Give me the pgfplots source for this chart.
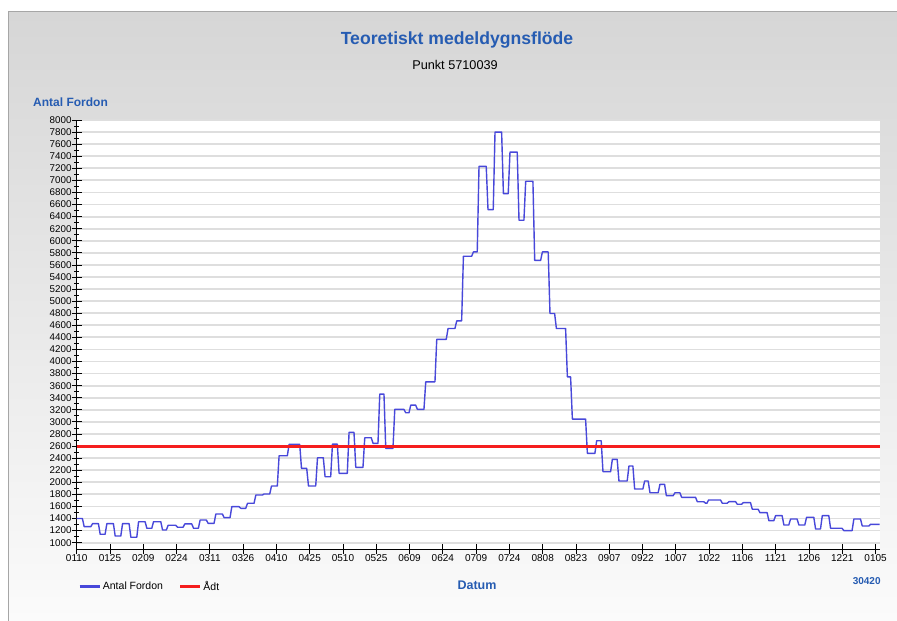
\documentclass[border=0pt]{standalone}
\usepackage{fontspec}
\setmainfont{Liberation Sans}
\usepackage{pgfplots}
\pgfplotsset{compat=1.18}
\definecolor{titleblue}{RGB}{38,92,178}
\definecolor{lineblue}{RGB}{72,72,218}
\definecolor{adtred}{RGB}{245,30,30}
\definecolor{gridgray}{RGB}{222,222,222}
\definecolor{bgtop}{RGB}{214,214,214}
\definecolor{bgmid}{RGB}{232,232,232}
\definecolor{bgbot}{RGB}{251,251,251}
\begin{document}
\begin{tikzpicture}[x=1pt,y=1pt]
\useasboundingbox (0,0) rectangle (897,621);
\fill[white] (0,0) rectangle (897,621);
\shade[top color=bgtop, middle color=bgmid, bottom color=bgbot] (8,0) rectangle (897,609);
\draw[gray!70, line width=1pt] (8,0) -- (8,609) -- (897,609);
\node[font=\fontsize{17.6}{20}\selectfont\bfseries, text=titleblue] at (457,581) {Teoretiskt medeldygnsflöde};
\node[font=\fontsize{12.7}{14}\selectfont] at (455,556) {Punkt 5710039};
\node[font=\fontsize{12}{14}\selectfont\bfseries, text=titleblue, anchor=west, inner sep=0pt] at (33,519) {Antal Fordon};
\node[font=\fontsize{12.5}{14}\selectfont\bfseries, text=titleblue] at (477,36) {Datum};
\node[font=\fontsize{10}{12}\selectfont\bfseries, text=titleblue] at (866.7,40) {30420};
\begin{axis}[
  at={(76.7pt,71.7pt)}, anchor=south west,
  width=803.3pt, height=429.3pt, scale only axis,
  axis background/.style={fill=white},
  xmin=0, xmax=362, ymin=890, ymax=8000,
  axis lines=left, axis line style={-, black, line width=0.8pt},
  xtick={0,15,...,360},
  xticklabels={0110,0125,0209,0224,0311,0326,0410,0425,0510,0525,0609,0624,0709,0724,0808,0823,0907,0922,1007,1022,1106,1121,1206,1221,0105},
  ytick={1000,1200,...,8000},
  minor y tick num=1,
  tick align=center,
  major tick length=10pt, minor tick length=5pt,
  tick style={black, line width=0.8pt},
  ymajorgrids, major grid style={gridgray, line width=1.8pt},
  /pgf/number format/.cd, 1000 sep={}, assume math mode=true, /pgfplots/.cd,
  yticklabel style={font=\fontsize{9.8}{10}\selectfont, inner sep=0pt, anchor=east},
  xticklabel style={font=\fontsize{10}{11}\selectfont, inner sep=0pt, anchor=north},
  legend style={at={(0.002,-0.0871)}, anchor=west, draw=none, fill=none, inner sep=0pt,
    font=\fontsize{10.5}{12}\selectfont, legend columns=2,
    /tikz/every even column/.append style={column sep=14pt}},
  legend image code/.code={\draw[#1, line width=2.4pt] (0pt,0pt) -- (20pt,0pt);},
]
\addplot[lineblue, line width=1.4pt, line join=round] coordinates {
(0,1400) (2.57,1400) (3.37,1265) (6.36,1265) (7.16,1315) (9.78,1315)
(10.58,1140) (12.8,1140) (13.6,1315) (16.54,1315) (17.34,1110) (19.87,1110)
(20.67,1315) (23.61,1315) (24.41,1090) (27.08,1090) (27.88,1347) (30.82,1347)
(31.62,1238) (33.83,1238) (34.63,1347) (37.89,1347) (38.69,1210) (40.41,1210)
(41.21,1288) (44.65,1288) (45.45,1255) (47.93,1255) (48.73,1310) (51.85,1310)
(52.65,1238) (54.83,1238) (55.63,1375) (58.43,1375) (59.23,1320) (61.9,1320)
(62.7,1475) (65.64,1475) (66.44,1414) (69.1,1414) (69.9,1596) (73.16,1596)
(73.96,1569) (76.18,1569) (76.98,1652) (79.92,1652) (80.72,1789) (83.65,1789)
(84.45,1806) (86.99,1806) (87.79,1938) (90.41,1938) (91.21,2440) (94.92,2440)
(95.72,2628) (100.5,2628) (101.3,2231) (103.65,2231) (104.45,1938) (107.71,1938)
(108.51,2406) (111.13,2406) (111.93,2092) (114.46,2092) (115.26,2633) (117.44,2633)
(118.24,2148) (121.94,2148) (122.74,2827) (124.96,2827) (125.76,2248) (129.01,2248)
(129.81,2737) (132.75,2737) (133.55,2645) (135.77,2645) (136.57,3460) (138.47,3460)
(139.27,2562) (142.53,2562) (143.33,3207) (147.48,3207) (148.28,3151) (149.74,3151)
(150.54,3278) (152.75,3278) (153.55,3207) (156.49,3207) (157.29,3664) (161.45,3664)
(162.25,4366) (166.54,4366) (167.34,4547) (170.46,4547) (171.26,4673) (173.47,4673)
(174.27,5743) (177.98,5743) (178.78,5815) (180.5,5815) (181.3,7233) (184.55,7233)
(185.35,6516) (187.71,6516) (188.51,7800) (191.49,7800) (192.29,6781) (194.46,6781)
(195.26,7469) (198.52,7469) (199.32,6339) (201.54,6339) (202.34,6985) (205.59,6985)
(206.39,5674) (209.06,5674) (209.86,5815) (212.48,5815) (213.28,4795) (215.37,4795)
(216.17,4547) (220.32,4547) (221.12,3746) (222.57,3746) (223.37,3047) (229.33,3047)
(230.13,2479) (233.52,2479) (234.32,2688) (236.36,2688) (237.16,2175) (240.59,2175)
(241.39,2380) (243.56,2380) (244.36,2021) (248.07,2021) (248.87,2269) (250.64,2269)
(251.44,1888) (255.14,1888) (255.94,2021) (257.53,2021) (258.33,1827) (262.03,1827)
(262.83,1966) (264.92,1966) (265.72,1778) (268.79,1778) (269.59,1827) (271.81,1827)
(272.61,1751) (278.88,1751) (279.68,1678) (282.62,1678) (283.42,1652) (283.97,1652)
(284.77,1707) (290.14,1707) (290.94,1652) (293.11,1652) (293.91,1679) (296.9,1679)
(297.7,1636) (299.6,1636) (300.4,1662) (303.65,1662) (304.45,1553) (307.08,1553)
(307.88,1497) (311.13,1497) (311.93,1364) (314.15,1364) (314.95,1447) (317.89,1447)
(318.69,1293) (320.9,1293) (321.7,1392) (324.64,1392) (325.44,1293) (328.11,1293)
(328.91,1420) (332.17,1420) (332.97,1227) (335.19,1227) (335.99,1447) (338.92,1447)
(339.72,1238) (344.91,1238) (345.71,1199) (349.42,1199) (350.22,1392) (353.2,1392)
(354.0,1276) (356.94,1276) (357.74,1304) (361.84,1304)
};
\addlegendentry{Antal Fordon}
\addplot[adtred, line width=2.4pt] coordinates {(0,2590) (362,2590)};
\addlegendentry{Ådt}
\end{axis}
\end{tikzpicture}
\end{document}
